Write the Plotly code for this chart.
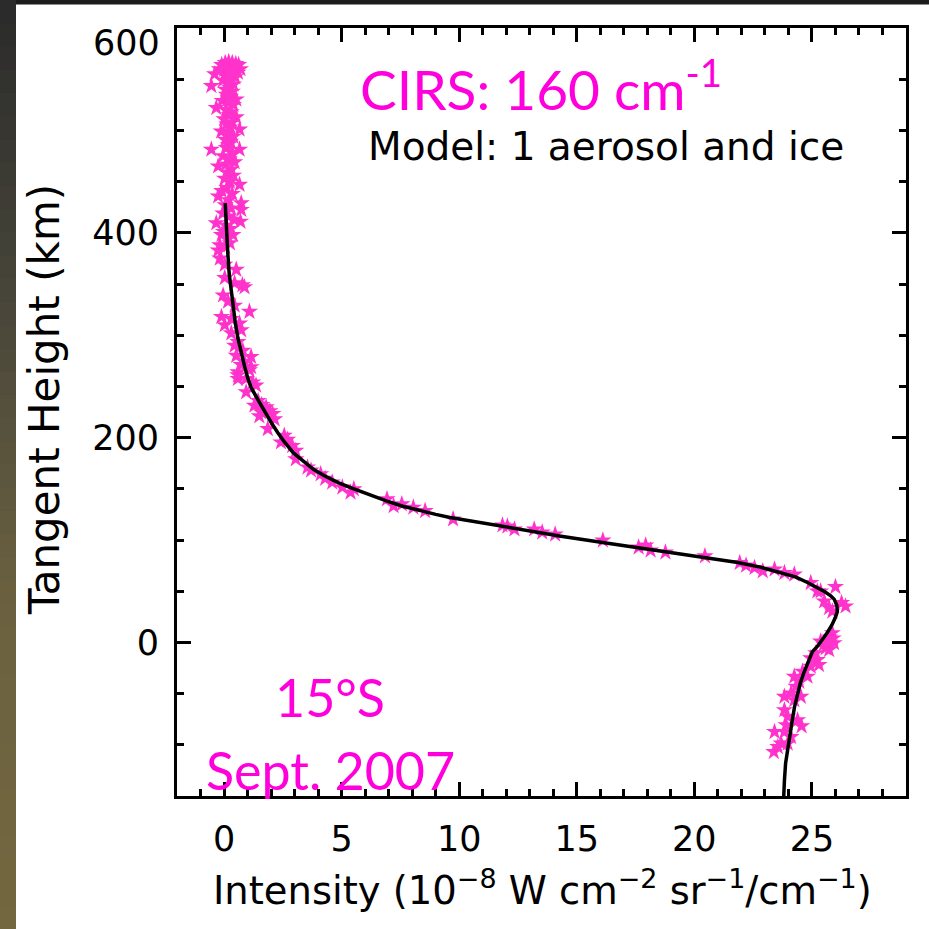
import plotly.graph_objects as go

# ---- CIRS limb observations (intensity, tangent height) ----
obs_intensity = [
    0.05, 0.20, 0.35, 0.50, 0.62, -0.10, 0.12, 0.28, 0.45, 0.70, -0.20, 0.00, 0.18, 0.38, 0.59,
    -0.40, 0.25, 0.08, 0.48, 0.30, -0.05, 0.15, 0.40, -0.54, 0.22, 0.05, 0.35, 0.10, 0.28, 0.52,
    -0.08, 0.18, 0.40, -0.33, 0.08, 0.30, 0.20, 0.52, 0.00, 0.35, 0.12, 0.25, 0.66, -0.12, 0.15,
    0.40, 0.05, 0.28, 0.18, -0.54, 0.66, 0.10, 0.35, -0.05, 0.22, 0.45, 0.08, -0.25, 0.30, 0.15,
    0.40, 0.02, 0.25, 0.66, 0.12, -0.10, 0.35, -0.25, 0.20, 0.73, 0.05, 0.30, 0.73, -0.05, 0.18,
    0.42, 0.70, -0.33, 0.10, 0.28, -0.02, 0.38, -0.11, 0.15, 0.25, -0.18, 0.05, -0.25, -0.18, 0.03,
    0.52, 0.03, 0.45, 0.87, 0.78, -0.04, 0.17, 0.45, 1.08, -0.11, 0.31, 0.66, 0.03, 0.73, 0.31,
    0.59, 0.45, 0.80, 1.15, 0.52, 0.87, 0.73, 1.15, 0.59, 1.08, 0.59, 0.94, 1.22, 1.36,
    0.59, 0.94, 1.29, 1.79, 2.07, 1.58, 1.45, 1.60, 1.70, 1.95, 1.50, 2.15, 1.86, 2.42, 2.56,
    2.70, 2.90, 3.05, 3.05, 3.55, 3.70, 4.11, 4.30, 4.60, 5.03, 5.52, 5.38, 6.93, 7.21, 7.56,
    8.05, 8.55, 9.74, 11.84, 12.05, 12.35, 13.19, 13.53, 14.08, 16.11, 17.63, 17.93, 18.14, 18.77,
    20.45, 21.93, 22.20, 22.56, 22.91, 23.41, 23.83, 24.25, 24.95, 25.23,
    26.00, 26.43, 26.26, 25.52, 25.73, 25.87, 25.37, 25.87, 25.66, 25.94, 25.37, 25.58, 25.73,
    25.16, 25.23, 24.95, 25.30, 24.95, 24.60, 24.81, 24.25, 24.46, 24.32, 24.11, 24.53, 24.25,
    23.83, 23.83, 23.97, 24.39, 24.56, 23.90, 23.83, 24.11, 23.69, 23.55, 23.38, 23.97, 23.41,
    25.75, 25.50, 25.90,
]
obs_height = [
    566, 567, 566, 565, 564, 564, 563, 562, 561, 560, 560, 559, 558, 557, 556.6,
    555, 555, 553, 552, 550, 549, 547, 545, 543.5, 542, 540, 538, 535, 533, 530.4,
    529, 527, 525, 522, 520, 518, 515, 513, 511, 508, 506, 503, 501, 499, 497,
    494, 491, 489, 486, 481.4, 481.4, 483, 478, 475, 472, 469, 467, 465, 462, 459,
    456, 453, 450, 447, 444, 441, 438, 435.7, 432, 429, 427, 424, 422.5, 419, 416,
    413, 411, 409.5, 407, 404, 401, 398, 398, 394, 390, 388, 386, 383, 375, 369,
    364, 356, 351, 347, 349, 339, 333, 329, 323, 318, 316, 311.5, 310, 305, 302,
    293.5, 290, 285, 279, 280, 274, 271, 269, 264, 266, 261, 257.5, 254, 251,
    257.5, 244.5, 231.4, 229.8, 223.2, 224.9, 236, 232, 228, 226, 221, 218, 208.5, 195.5, 202,
    198, 192, 187.3, 179, 171, 168, 164.4, 160, 156.3, 151.4, 149.7, 146.5, 139.9, 133.3, 135,
    131.8, 128.4, 120.3, 114.4, 113.4, 110.5, 110.5, 107.5, 105.6, 99.7, 92.8, 94.8, 89.9, 87.9,
    84.3, 77.8, 75.2, 72.9, 69.6, 71.3, 68, 66.4, 58.2, 50,
    54.3, 35.3, 38.6, 40.2, 33.7, 30.4, 50, 9.2, 2.6, -0.6, 1, -5.5, -7.2,
    -10.4, -17, -15.3, -21.9, -23.5, -28.4, -33.3, -33.3, -38.2, -43.1, -49.6, -52.9, -56.2,
    -52.9, -66, -72.5, -75.8, -81.7, -80.7, -87.3, -92.2, -98.6, -102, -106.9, -98.6, -87.3,
    5, -2, 4,
]

# ---- Model profile: 1 aerosol and ice ----
model_intensity = [
    0.05, 0.10, 0.16, 0.22, 0.30, 0.38, 0.48, 0.59, 0.72, 0.87, 1.01, 1.15, 1.44, 1.70, 2.00,
    2.28, 2.56, 2.95, 3.41, 3.80, 4.25, 4.85, 5.52, 6.20, 6.93, 7.60, 8.34, 9.00, 9.61, 10.87,
    12.50, 14.26, 16.10, 18.00, 18.90, 20.45, 21.85, 22.80, 23.67, 24.30, 24.81, 25.20, 25.53,
    25.80, 25.95, 26.06, 26.08, 25.99, 25.85, 25.65, 25.45, 25.23, 25.02, 24.81, 24.65, 24.51,
    24.38, 24.26, 24.15, 24.05, 23.96, 23.88, 23.83, 23.80,
]
model_height = [
    429, 400, 380, 360, 345, 329, 312, 297, 283, 270, 258, 249, 237, 226, 215,
    205, 196, 185, 176, 169, 163, 156, 150, 144, 138, 133, 128.5, 125, 122, 117,
    110.5, 104, 97.5, 91, 88, 83, 78, 73.5, 68.5, 64, 58.5, 54, 49.7,
    45.5, 42, 36, 30, 24, 17, 9.5, 2.5, -4, -9, -20, -30, -39.5,
    -51, -63, -78, -92.5, -105, -118, -135, -151,
]

x_range = [-2, 29]
y_range = [-150, 600]
x_ticks = [0, 5, 10, 15, 20, 25]
y_ticks = [0, 200, 400, 600]
y_ticktext = ["0", "200", "400", ""]

W = H = 929
ML, MR, MT, MB = 177, 23, 28, 133
PW, PH = W - ML - MR, H - MT - MB


def px_x(p):
    return (p - ML) / PW


def px_y(p):
    return (H - MB - p) / PH


MAGENTA = "#ff00dd"
STAR = "#ff33cc"
TICK_FONT = dict(family="DejaVu Sans", size=35, color="black")
LABEL_FONT = "Lato"

fig = go.Figure()
fig.add_trace(go.Scatter(
    x=obs_intensity, y=obs_height, mode="markers",
    marker=dict(symbol="star", size=13, color=STAR, line=dict(width=0)),
    showlegend=False, hoverinfo="skip",
))
fig.add_trace(go.Scatter(
    x=model_intensity, y=model_height, mode="lines",
    line=dict(color="black", width=3.5), showlegend=False, hoverinfo="skip",
))

axis_common = dict(
    showline=True, linecolor="black", linewidth=3, mirror="allticks",
    ticks="inside", tickwidth=2.5, tickcolor="black", ticklen=14,
    showgrid=False, zeroline=False, tickfont=TICK_FONT,
)
fig.update_xaxes(
    range=x_range, tickvals=x_ticks, ticklabelstandoff=10,
    minor=dict(ticks="inside", dtick=1, tick0=0, ticklen=7, tickwidth=2.5,
               tickcolor="black", showgrid=False),
    **axis_common,
)
fig.update_yaxes(
    range=y_range, tickvals=y_ticks, ticktext=y_ticktext, ticklabelstandoff=8,
    minor=dict(ticks="inside", dtick=50, tick0=0, ticklen=7, tickwidth=2.5,
               tickcolor="black", showgrid=False),
    **axis_common,
)

# dark slide border: top band and left gradient strip
shapes = [dict(type="rect", xref="paper", yref="paper",
               x0=px_x(0), x1=px_x(W), y0=px_y(4.5), y1=px_y(0),
               fillcolor="#1c1c1c", line=dict(width=0), layer="above")]
stops = [(0, (42, 42, 42)), (300, (72, 70, 58)), (600, (107, 97, 64)), (929, (115, 103, 63))]
n = 40
for i in range(n):
    y0p, y1p = i * H / n, (i + 1) * H / n
    ym = (y0p + y1p) / 2
    for (a, ca), (b, cb) in zip(stops[:-1], stops[1:]):
        if a <= ym <= b:
            t = (ym - a) / (b - a)
            c = tuple(int(round(ca[k] + (cb[k] - ca[k]) * t)) for k in range(3))
            break
    col = "rgb(%d,%d,%d)" % c
    shapes.append(dict(type="rect", xref="paper", yref="paper",
                       x0=px_x(0), x1=px_x(16), y0=px_y(y1p + 2), y1=px_y(y0p),
                       fillcolor=col, line=dict(width=0), layer="above"))

annotations = [
    # top tick label sits just inside the frame
    dict(text="600", xref="paper", yref="paper", x=px_x(162), y=px_y(43),
         xanchor="right", yanchor="middle", showarrow=False, font=TICK_FONT),
    dict(text="Tangent Height (km)", xref="paper", yref="paper",
         x=px_x(44), y=px_y(400), textangle=-90, xanchor="center", yanchor="middle",
         showarrow=False, font=dict(family="DejaVu Sans", size=42, color="black")),
    dict(text="Intensity (10<sup>−8</sup> W cm<sup>−2</sup> sr<sup>−1</sup>/cm<sup>−1</sup>)",
         xref="paper", yref="paper", x=px_x(542), y=px_y(888),
         xanchor="center", yanchor="middle", showarrow=False,
         font=dict(family="DejaVu Sans", size=38.5, color="black")),
    dict(text="CIRS: 160 cm<sup>-1</sup>", xref="paper", yref="paper",
         x=px_x(541), y=px_y(85), xanchor="center", yanchor="middle", showarrow=False,
         font=dict(family=LABEL_FONT, size=55, color=MAGENTA)),
    dict(text="Model: 1 aerosol and ice", xref="paper", yref="paper",
         x=px_x(606), y=px_y(146), xanchor="center", yanchor="middle", showarrow=False,
         font=dict(family="DejaVu Sans", size=39, color="black")),
    dict(text="15°S", xref="paper", yref="paper",
         x=px_x(330), y=px_y(697), xanchor="center", yanchor="middle", showarrow=False,
         font=dict(family=LABEL_FONT, size=52, color=MAGENTA)),
    dict(text="Sept. 2007", xref="paper", yref="paper",
         x=px_x(330), y=px_y(770), xanchor="center", yanchor="middle", showarrow=False,
         font=dict(family=LABEL_FONT, size=52, color=MAGENTA)),
]

fig.update_layout(
    width=W, height=H,
    margin=dict(l=ML, r=MR, t=MT, b=MB, autoexpand=False),
    paper_bgcolor="white", plot_bgcolor="white",
    shapes=shapes, annotations=annotations,
)

fig.write_html("out.html")
